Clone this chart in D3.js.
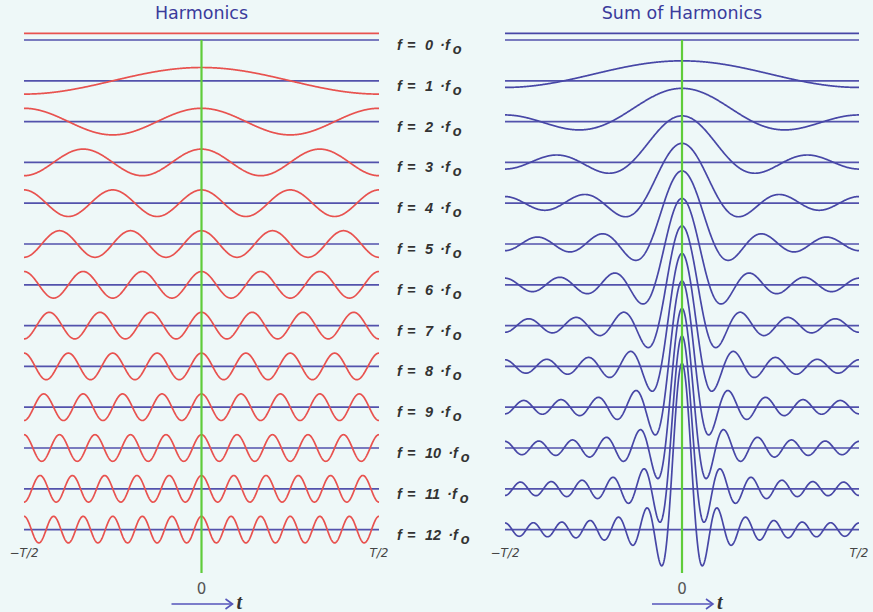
<!DOCTYPE html>
<html><head><meta charset="utf-8">
<script src="https://cdn.jsdelivr.net/npm/d3@7"></script>
<style>
html,body{margin:0;padding:0;background:#eef8f8;}
svg{display:block;}
</style></head>
<body>
<script>
// ---- data ----
const harmonics = [0,1,2,3,4,5,6,7,8,9,10,11,12];          // harmonic number k (f = k·f0)
const coefficients = [0.5,1,1,1,1,1,1,1,1,1,1,1,1];         // cosine amplitude of each harmonic
const titles = ["Harmonics", "Sum of Harmonics"];
const tLabels = ["\u2212T/2", "0", "T/2"];
const tDomain = [-0.5, 0, 0.5];                               // t in units of T

const W = 873, H = 612;
const svg = d3.select("body").append("svg").attr("width", W).attr("height", H);
svg.append("rect").attr("width", W).attr("height", H).attr("fill", "#eef8f8");

const rowY = d3.scaleLinear().domain([0, 12]).range([40, 529.6]);
const amp = d3.scaleLinear().domain([0, 1]).range([0, -13.3]);
const panels = [
  {x: d3.scaleLinear().domain([-0.5, 0.5]).range([24, 379]), title: titles[0], sum: false},
  {x: d3.scaleLinear().domain([-0.5, 0.5]).range([505, 859]), title: titles[1], sum: true}
];

const N = 800;
const ts = d3.range(N + 1).map(i => -0.5 + i / N);
const harm = (k, t) => coefficients[k] * Math.cos(2 * Math.PI * harmonics[k] * t);

const RED = "#e8524f", BLUE = "#5252ac", CURVE = "#4747a6", GREEN = "#5fcc3a";

panels.forEach(p => {
  const g = svg.append("g");
  // title
  g.append("text").attr("x", p.x(0)).attr("y", 19).attr("text-anchor", "middle")
    .attr("font-family", "DejaVu Sans").attr("font-size", 17.5).attr("fill", "#3b3b9c")
    .text(p.title);

  harmonics.forEach((k, i) => {
    const y0 = rowY(i);
    // baseline
    g.append("line").attr("x1", p.x.range()[0]).attr("x2", p.x.range()[1])
      .attr("y1", y0).attr("y2", y0).attr("stroke", BLUE).attr("stroke-width", 1.7);
    // curve
    const f = p.sum
      ? (t => d3.sum(harmonics.slice(0, i + 1), (_, j) => harm(j, t)))
      : (t => harm(i, t));
    const line = d3.line().x(t => p.x(t)).y(t => y0 + amp(f(t))).curve(d3.curveLinear);
    g.append("path").attr("d", line(ts)).attr("fill", "none")
      .attr("stroke", p.sum ? CURVE : RED).attr("stroke-width", 1.7);
  });

  // green t=0 line
  g.append("line").attr("x1", p.x(0)).attr("x2", p.x(0)).attr("y1", rowY(0)).attr("y2", 573)
    .attr("stroke", GREEN).attr("stroke-width", 2.2);

  // T labels
  [0, 2].forEach(j => {
    g.append("text").attr("x", p.x(tDomain[j])).attr("y", 557).attr("text-anchor", "middle")
      .attr("font-family", "DejaVu Sans").attr("font-style", "italic").attr("font-size", 12)
      .attr("fill", "#444").text(tLabels[j]);
  });
  g.append("text").attr("x", p.x(0)).attr("y", 594).attr("text-anchor", "middle")
    .attr("font-family", "DejaVu Sans").attr("font-size", 15).attr("fill", "#555").text(tLabels[1]);

  // t arrow
  const ax0 = p.x(0) - 30, ax1 = p.x(0) + 31, ay = 604;
  g.append("line").attr("x1", ax0).attr("x2", ax1).attr("y1", ay).attr("y2", ay)
    .attr("stroke", "#5555bb").attr("stroke-width", 1.6);
  g.append("path").attr("d", `M${ax1 - 7},${ay - 5} L${ax1},${ay} L${ax1 - 7},${ay + 5}`)
    .attr("fill", "none").attr("stroke", "#5555bb").attr("stroke-width", 1.6);
  g.append("text").attr("x", ax1 + 4).attr("y", ay + 5)
    .attr("font-family", "Liberation Serif").attr("font-style", "italic").attr("font-weight", "bold")
    .attr("font-size", 20).attr("fill", "#333").text("t");
});

// row labels
harmonics.forEach((k, i) => {
  const y = rowY(i) + 10;
  const t = svg.append("text").attr("x", 397).attr("y", y)
    .attr("font-family", "Liberation Sans").attr("font-style", "italic").attr("font-weight", "bold")
    .attr("font-size", 14.5).attr("fill", "#333");
  t.append("tspan").text("f");
  t.append("tspan").attr("x", 407).text("=");
  t.append("tspan").attr("x", 425).text(String(k));
  t.append("tspan").attr("dx", 7).text("\u00b7f");
  t.append("tspan").attr("dx", 3).attr("dy", 4).text("o");
});
</script>
</body></html>
